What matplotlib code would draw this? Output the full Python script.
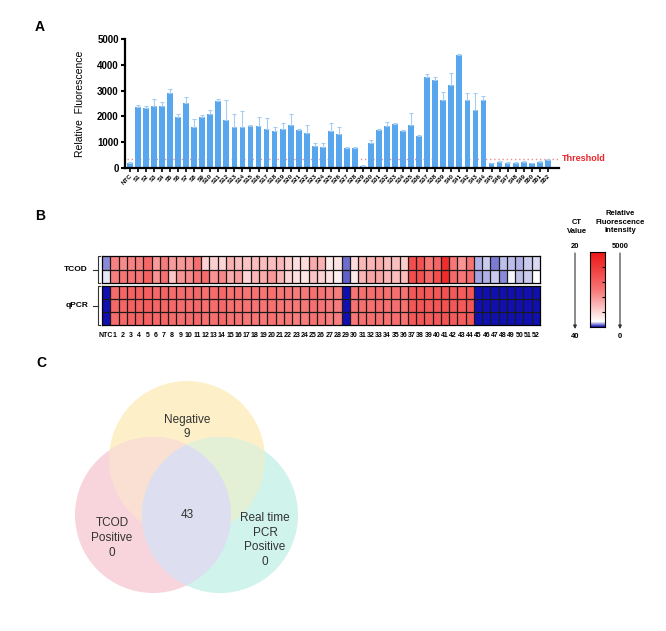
import numpy as np
import matplotlib
matplotlib.use('Agg')
import matplotlib.pyplot as plt
from matplotlib.colors import LinearSegmentedColormap, Normalize
from matplotlib.patches import Circle

plt.rcParams['font.family'] = ['Liberation Sans', 'DejaVu Sans']

W, H = 666, 631

# ---- data ----
samples = ['NTC'] + [f'S{i}' for i in range(1, 53)]
rf_mean = [200, 2350, 2330, 2420, 2420, 2910, 1985, 2510, 1585, 1985, 2075, 2600,
           1870, 1570, 1585, 1610, 1610, 1520, 1440, 1520, 1660, 1480, 1340, 860, 825,
           1445, 1300, 770, 790, 90, 980, 1480, 1620, 1710, 1440, 1670, 1250,
           3520, 3430, 2630, 3200, 4380, 2620, 2230, 2650,
           180, 245, 180, 200, 245, 190, 245, 320]
rf_err = [40, 110, 70, 260, 150, 140, 100, 230, 320, 60, 180, 90,
          770, 530, 620, 60, 360, 400, 140, 220, 440, 50, 330, 100, 140,
          290, 300, 60, 30, 20, 90, 40, 150, 30, 40, 460, 30,
          110, 90, 300, 490, 50, 270, 660, 150,
          10, 20, 60, 30, 40, 20, 20, 30]
threshold = 360

heat_cols = ['NTC'] + [str(i) for i in range(1, 53)]
tcod_rep1 = [190, 2300, 2150, 2300, 2350, 2800, 1900, 2400, 1900, 1950, 2000, 2650,
             1050, 1100, 1000, 1550, 1350, 1250, 1400, 1380, 1350, 1450, 1100, 850, 900,
             1650, 1550, 700, 800, 150, 900, 1450, 1500, 1650, 1400, 1350, 1100,
             3500, 3400, 2450, 2900, 4350, 2450, 2000, 2550,
             240, 275, 160, 260, 260, 250, 275, 300]
tcod_rep2 = [320, 2350, 2500, 2550, 2500, 3000, 2050, 2600, 1250, 2000, 2150, 2550,
             2700, 2050, 2200, 1650, 1850, 1000, 1500, 1650, 1950, 1500, 1000, 850, 750,
             1250, 1050, 820, 600, 130, 700, 1500, 1750, 1750, 1480, 1400, 1400,
             3550, 3450, 2800, 3500, 4400, 2800, 2450, 2750,
             230, 245, 275, 190, 345, 260, 275, 355]
ct_rep1 = [40, 29.0, 28.5, 28.2, 28.0, 27.8, 28.6, 28.3, 29.0, 29.2, 29.0, 28.7,
           29.5, 29.2, 28.8, 29.8, 29.6, 30.0, 29.8, 30.0, 29.5, 30.2, 30.0, 30.5, 30.3,
           29.6, 29.8, 30.4, 30.6, 40, 30.0, 29.5, 29.4, 29.2, 29.6, 29.3, 29.8,
           27.0, 26.8, 27.3, 27.0, 26.5, 27.2, 27.5, 27.0,
           40, 40, 40, 40, 40, 40, 40, 40]
ct_rep2 = [40, 28.8, 28.4, 28.0, 28.1, 27.6, 28.5, 28.4, 28.8, 29.0, 29.1, 28.6,
           29.3, 29.0, 28.7, 29.6, 29.7, 29.8, 29.9, 29.8, 29.6, 30.0, 30.1, 30.3, 30.2,
           29.5, 29.9, 30.3, 30.4, 40, 29.8, 29.4, 29.5, 29.1, 29.5, 29.4, 29.6,
           26.9, 26.7, 27.1, 26.9, 26.4, 27.0, 27.3, 26.9,
           40, 40, 40, 40, 40, 40, 40, 40]
ct_rep3 = [40, 29.1, 28.6, 28.3, 28.2, 27.9, 28.7, 28.5, 29.1, 29.3, 29.2, 28.8,
           29.6, 29.3, 28.9, 29.9, 29.8, 30.1, 30.0, 30.1, 29.7, 30.3, 30.2, 30.6, 30.4,
           29.7, 30.0, 30.5, 30.7, 40, 30.1, 29.6, 29.5, 29.3, 29.7, 29.4, 29.9,
           27.1, 26.9, 27.4, 27.1, 26.6, 27.3, 27.6, 27.1,
           40, 40, 40, 40, 40, 40, 40, 40]

venn_negative = 9
venn_both = 43
venn_tcod_only = 0
venn_pcr_only = 0

cmap = LinearSegmentedColormap.from_list(
    'bwr_rf', [(0.0, '#1010B0'), (0.07, '#FFFFFF'), (0.5, '#F77474'), (1.0, '#EE1414')])


def box(x0, y0, x1, y1):
    return [x0 / W, 1 - y1 / H, (x1 - x0) / W, (y1 - y0) / H]


fig = plt.figure(figsize=(W / 100, H / 100), dpi=100)

# ---- A: bar chart ----
ax = fig.add_axes(box(125, 39, 559, 168))
x = np.arange(len(samples))
ax.plot([-0.4, 53.3], [threshold, threshold], color='#F08C8C', ls=(0, (1, 2)), lw=1, zorder=1)
ax.bar(x, rf_mean, width=0.72, color='#58A6EE', zorder=2)
ax.errorbar(x, rf_mean, yerr=[np.zeros(len(x)), rf_err], fmt='none', ecolor='#A5CDF3',
            elinewidth=0.8, capsize=1.2, capthick=0.8, zorder=3)
ax.set_xlim(-0.62, 53.4)
ax.set_ylim(0, 5000)
ax.set_yticks(range(0, 5001, 1000))
ax.set_xticks(x)
ax.set_xticklabels(samples, rotation=45, ha='right', rotation_mode='anchor',
                   fontsize=4.5, fontweight='bold')
for lab in ax.get_yticklabels():
    lab.set_fontweight('bold')
ax.tick_params(axis='y', labelsize=7, length=3, width=1.5, pad=1.5)
ax.tick_params(axis='x', length=3, width=1.2, pad=1)
for s in ['top', 'right']:
    ax.spines[s].set_visible(False)
for s in ['left', 'bottom']:
    ax.spines[s].set_linewidth(1.6)
ax.set_ylabel('Relative  Fluorescence', fontsize=7.5, labelpad=9)
ax.text(53.7, threshold, 'Threshold', color='#E8262B', fontsize=6.5,
        fontweight='bold', va='center')

# ---- B: heatmaps ----
ncol = len(heat_cols)
axt = fig.add_axes(box(102, 256, 540, 283))
axt.pcolormesh(np.array([tcod_rep1, tcod_rep2]), cmap=cmap, norm=Normalize(0, 5000))
axt.set_ylim(2, 0)
axt.set_xticks([])

axq = fig.add_axes(box(102, 286, 540, 325))
axq.pcolormesh(np.array([ct_rep1, ct_rep2, ct_rep3]), cmap=cmap.reversed(),
               norm=Normalize(20, 40))
axq.set_ylim(3, 0)
axq.set_xticks(np.arange(ncol) + 0.5)
axq.set_xticklabels(heat_cols, fontsize=5, fontweight='bold')
axq.tick_params(axis='x', length=0, pad=5)

for a, nrow in ((axt, 2), (axq, 3)):
    a.set_xlim(0, ncol)
    a.set_yticks([])
    a.vlines(np.arange(1, ncol), 0, nrow, colors='#1a1a1a', lw=0.9, snap=True)
    a.hlines(np.arange(1, nrow), 0, ncol, colors='#1a1a1a', lw=0.9, snap=True)
    for s in a.spines.values():
        s.set_linewidth(0.9)

# colour bar
axc = fig.add_axes(box(590, 252, 605, 327))
grad = np.linspace(0, 5000, 256)[:, None]
axc.imshow(grad, aspect='auto', cmap=cmap, origin='lower', extent=[0, 1, 0, 5000])
axc.set_xticks([])
axc.yaxis.tick_right()
axc.set_yticks([1000, 2000, 3000, 4000])
axc.tick_params(axis='y', direction='in', length=2, width=0.8, labelright=False)
for s in axc.spines.values():
    s.set_linewidth(0.8)

# ---- overlay (letters, brackets, venn) ----
ov = fig.add_axes([0, 0, 1, 1], zorder=-1)
ov.set_xlim(0, W)
ov.set_ylim(H, 0)
ov.axis('off')

for lx, ly, letter in [(40, 27, 'A'), (40, 216, 'B'), (41, 363, 'C')]:
    ov.text(lx, ly, letter, fontsize=10, fontweight='bold', ha='center', va='center')

for y0, y1, label in [(256, 283, 'TCOD'), (286, 325, 'qPCR')]:
    ym = (y0 + y1) / 2
    ov.plot([100, 97.5, 97.5, 100], [y0, y0, y1, y1], color='#333333', lw=0.8)
    ov.plot([93, 97.5], [ym, ym], color='#333333', lw=0.8)
    ov.text(88, ym, label, ha='right', va='center', fontsize=6, fontweight='bold')

ov.text(577, 227, 'CT\nValue', ha='center', va='center', fontsize=5.5, fontweight='bold',
        linespacing=1.3)
ov.text(620, 222, 'Relative\nFluorescence\nIntensity', ha='center', va='center',
        fontsize=5.5, fontweight='bold', linespacing=1.3)
for ax_x, top, bot in [(575, '20', '40'), (620, '5000', '0')]:
    ov.text(ax_x, 247, top, ha='center', va='center', fontsize=5.5, fontweight='bold')
    ov.text(ax_x, 337, bot, ha='center', va='center', fontsize=5.5, fontweight='bold')
    ov.annotate('', xy=(ax_x, 329), xytext=(ax_x, 253),
                arrowprops=dict(arrowstyle='-|>', lw=0.8, color='#333333',
                                mutation_scale=5, shrinkA=0, shrinkB=0))

# venn diagram
r = 78
c_neg, c_tcod, c_pcr = (187, 459), (153, 515), (220, 515)
ov.add_patch(Circle(c_neg, r, color='#FDF0C8', lw=0, zorder=1))
ov.add_patch(Circle(c_tcod, r, color='#F8D4DC', lw=0, zorder=2))
ov.add_patch(Circle(c_pcr, r, color='#D0F3EC', lw=0, zorder=3))
p = Circle(c_tcod, r, color='#FAE0D2', lw=0, zorder=4)
ov.add_patch(p)
p.set_clip_path(Circle(c_neg, r, transform=ov.transData))
p = Circle(c_pcr, r, color='#E4F0D6', lw=0, zorder=5)
ov.add_patch(p)
p.set_clip_path(Circle(c_neg, r, transform=ov.transData))
p = Circle(c_pcr, r, color='#DDDEF0', lw=0, zorder=6)
ov.add_patch(p)
p.set_clip_path(Circle(c_tcod, r, transform=ov.transData))

vkw = dict(ha='center', va='center', fontsize=8.5, color='#333333', zorder=10,
           linespacing=1.3)
ov.text(187, 427, f'Negative\n{venn_negative}', **vkw)
ov.text(187, 515, f'{venn_both}', **vkw)
ov.text(112, 538, f'TCOD\nPositive\n{venn_tcod_only}', **vkw)
ov.text(265, 540, f'Real time\nPCR\nPositive\n{venn_pcr_only}', **vkw)

fig.savefig('out.png', dpi=100)
